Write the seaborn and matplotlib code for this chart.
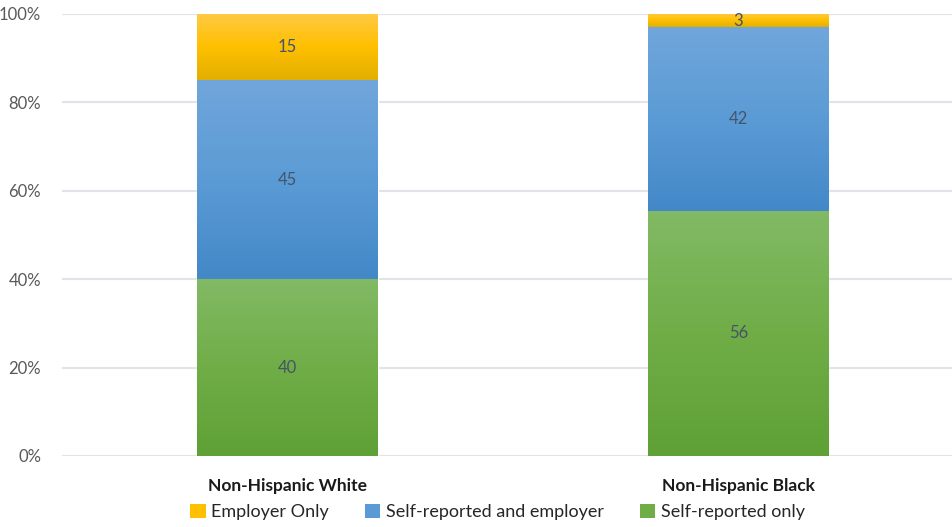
import numpy as np
import pandas as pd
import matplotlib
matplotlib.use("Agg")
import matplotlib.pyplot as plt
import seaborn as sns
from matplotlib.colors import LinearSegmentedColormap
from matplotlib.patches import Patch

categories = ["Non-Hispanic White", "Non-Hispanic Black"]
self_only = [40, 56]
self_and_employer = [45, 42]
employer_only = [15, 3]
series_names = ["Self-reported only", "Self-reported and employer", "Employer Only"]
yticks = [0, 20, 40, 60, 80, 100]
ytick_labels = ["0%", "20%", "40%", "60%", "80%", "100%"]

sns.set_style("white")
plt.rcParams['font.family'] = ['Lato', 'DejaVu Sans']

series = [self_only, self_and_employer, employer_only]
totals = np.sum(np.array(series, dtype=float), axis=0)
pct = [np.array(s, dtype=float) / totals * 100 for s in series]

grad = {
    "Self-reported only": ("#82BA65", "#70AD47", "#5FA136"),
    "Self-reported and employer": ("#70A6DB", "#5B9BD5", "#4388C8"),
    "Employer Only": ("#FFCA45", "#FFC000", "#E2AF00"),
}
base = {k: v[1] for k, v in grad.items()}

fig = plt.figure(figsize=(9.52, 5.27), dpi=100)
ax = fig.add_axes([62/952, 71/527, 890/952, 442/527])

bottom = np.zeros(len(categories))
for name, vals in zip(series_names, pct):
    df = pd.DataFrame({"cat": categories, "val": vals})
    n_before = len(ax.patches)
    sns.barplot(data=df, x="cat", y="val", bottom=bottom, color=base[name],
                width=0.4, ax=ax, saturation=1, errorbar=None)
    new = ax.patches[n_before:]
    cmap = LinearSegmentedColormap.from_list(name, list(grad[name][::-1]))
    g = np.linspace(0, 1, 256).reshape(-1, 1)
    for p, raw, b, v in zip(new, series[series_names.index(name)], bottom, vals):
        x0, w = p.get_x(), p.get_width()
        im = ax.imshow(g, extent=[x0, x0 + w, b, b + v], origin="lower",
                       cmap=cmap, aspect="auto", zorder=p.get_zorder() + 0.1)
        im.set_clip_path(p)
        ax.text(x0 + w / 2, b + v / 2, f"{raw}", ha="center", va="center",
                fontsize=12, color="#44546A", zorder=5)
    bottom = bottom + vals

ax.set_xlim(-0.5, 1.474)
ax.set_ylim(0, 100)
ax.set_yticks(yticks)
ax.set_yticklabels(ytick_labels, fontsize=12, color="#595959")
ax.set_xlabel("")
ax.set_ylabel("")
ax.set_xticks(range(len(categories)))
ax.set_xticklabels(categories, fontsize=12.5, fontweight="bold", color="#1a1a1a")
ax.tick_params(axis="x", length=0, pad=16)
ax.tick_params(axis="y", length=0, pad=15)
for y in yticks:
    ax.axhline(y, color="#E0E3E8", lw=1.5, zorder=0)
for s in ax.spines.values():
    s.set_visible(False)

handles = [Patch(facecolor=base[n], edgecolor="none") for n in ["Employer Only", "Self-reported and employer", "Self-reported only"]]
leg = fig.legend(handles, ["Employer Only", "Self-reported and employer", "Self-reported only"],
                 loc="center", bbox_to_anchor=(497.5/952, 1 - 512/527), ncol=3, frameon=False,
                 fontsize=13, handlelength=0.85, handleheight=0.8, columnspacing=2.0,
                 handletextpad=0.3)
for t in leg.get_texts():
    t.set_color("#262626")

fig.savefig("out.png", dpi=100)
